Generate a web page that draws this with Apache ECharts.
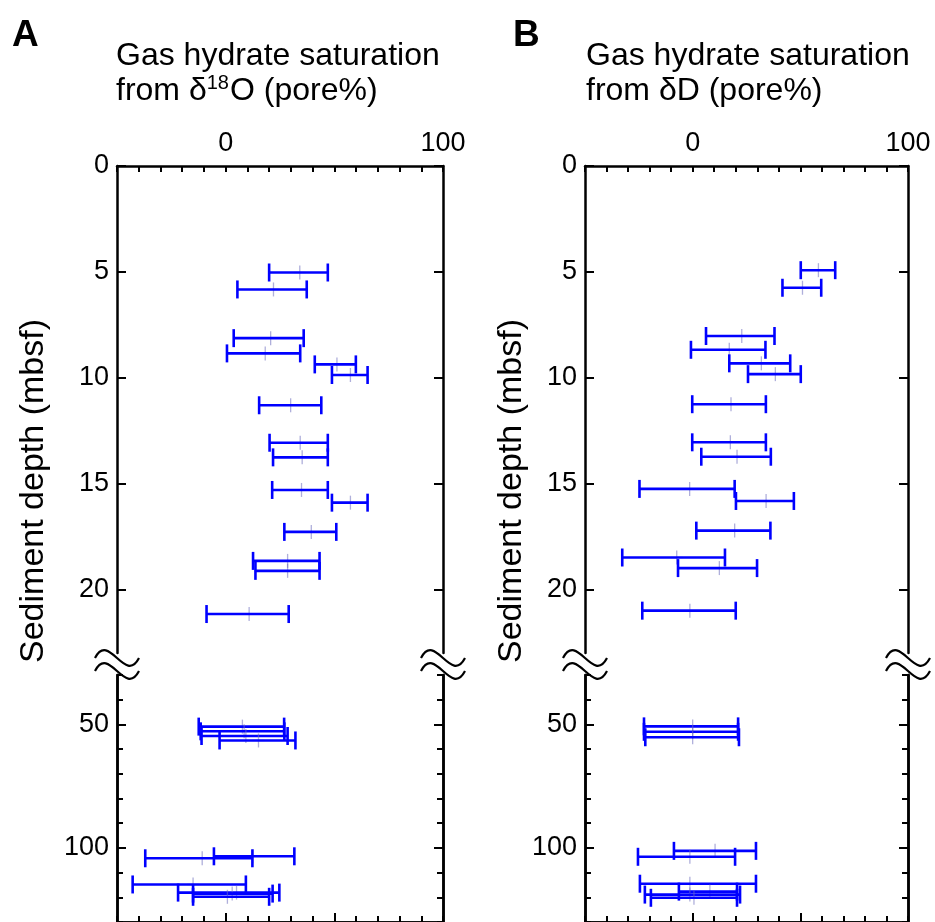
<!DOCTYPE html>
<html><head><meta charset="utf-8">
<script src="https://cdn.jsdelivr.net/npm/echarts@6/dist/echarts.min.js"></script>
<style>html,body{margin:0;padding:0;background:#fff}#c{width:935px;height:922px}</style>
</head><body><div id="c"></div>
<script>
// ---------- DATA ----------
// Panel A: saturation from δ18O
const depthA  = [5.03, 5.83, 8.13, 8.85, 9.37, 9.87, 11.3, 13.07, 13.76, 15.3, 15.9, 17.28, 18.65, 19.12, 21.16, 50.9, 52.8, 54.7, 56.5, 103.4, 104.2, 114.8, 118.1, 118.5, 119.8];
const centerA = [34.1, 22.0, 20.7, 18.2, 51.2, 57.4, 29.9, 34.3, 35.2, 34.9, 57.4, 39.4, 28.5, 28.5, 10.8, 7.7, 8.5, 9.3, 15.1, 12.5, -10.8, -15.0, 5.0, 3.0, 0.8];
const lowA    = [20.0, 5.4, 3.7, 0.6, 41.0, 48.9, 15.4, 20.2, 21.8, 21.4, 48.9, 27.0, 12.6, 13.7, -8.8, -12.4, -11.5, -11.1, -2.8, -5.4, -37.0, -42.8, -21.9, -15.0, -15.0];
const highA   = [47.0, 37.3, 35.9, 34.3, 59.9, 65.3, 44.0, 47.0, 47.0, 47.0, 65.3, 50.9, 43.2, 43.2, 29.0, 26.9, 27.0, 28.5, 32.1, 31.6, 12.3, 9.3, 24.7, 21.6, 20.0];
// Panel B: saturation from δD
const depthB  = [4.92, 5.75, 8.03, 8.68, 9.32, 9.83, 11.25, 13.05, 13.73, 15.25, 15.82, 17.22, 18.49, 18.99, 21.0, 50.8, 53.0, 55.2, 101.2, 103.6, 114.5, 117.7, 118.9, 120.2];
const centerB = [58.4, 51.0, 22.8, 17.0, 31.9, 38.4, 17.8, 17.5, 20.6, -1.4, 34.1, 19.5, -7.4, 12.4, -1.3, 0.0, 0.0, 0.0, 10.4, -1.3, -1.3, 8.0, -1.3, 0.6];
const lowB    = [50.2, 41.7, 6.2, -0.8, 17.0, 25.7, -0.2, -0.2, 4.0, -24.7, 20.1, 1.7, -32.7, -6.8, -23.4, -22.6, -22.6, -22.0, -8.7, -25.4, -24.5, -6.4, -22.2, -19.4];
const highB   = [66.2, 59.7, 38.0, 33.8, 45.3, 50.2, 34.0, 34.0, 36.3, 19.5, 47.0, 36.1, 15.0, 29.9, 20.0, 21.1, 21.1, 21.5, 29.4, 19.7, 29.4, 20.6, 22.0, 20.6];

const xTickLabels = [0, 100];
const yUpperLabels = [0, 5, 10, 15, 20];
const yLowerLabels = [50, 100];
const xMajorLower = [0, 50];
const upperRange = [0, 23];
const lowerRange = [30, 130];
const xRange = [-50, 100];

// ---------- HELPERS ----------
const FONT = 'Liberation Sans, Arial, Helvetica, sans-serif';
const BLUE = '#0000ff';
const MARK = 'rgba(110,110,190,0.55)';

function rows(depth, center, low, high, upper) {
  const out = [];
  for (let i = 0; i < depth.length; i++) {
    const isUpper = depth[i] < 25;
    if (isUpper === upper) out.push([center[i], depth[i], low[i], high[i]]);
  }
  return out;
}

function renderErr(params, api) {
  const c = api.value(0), d = api.value(1), lo = api.value(2), hi = api.value(3);
  const pl = api.coord([lo, d]), ph = api.coord([hi, d]), pc = api.coord([c, d]);
  const cap = 9;
  return {
    type: 'group',
    children: [
      {type: 'line', shape: {x1: pc[0], y1: pc[1] - 7, x2: pc[0], y2: pc[1] + 7}, style: {stroke: MARK, lineWidth: 1.3}},
      {type: 'line', shape: {x1: pc[0] - 6, y1: pc[1], x2: pc[0] + 6, y2: pc[1]}, style: {stroke: MARK, lineWidth: 1.3}},
      {type: 'line', shape: {x1: pl[0], y1: pl[1], x2: ph[0], y2: ph[1]}, style: {stroke: BLUE, lineWidth: 2.6}},
      {type: 'line', shape: {x1: pl[0], y1: pl[1] - cap, x2: pl[0], y2: pl[1] + cap}, style: {stroke: BLUE, lineWidth: 2.6}},
      {type: 'line', shape: {x1: ph[0], y1: ph[1] - cap, x2: ph[0], y2: ph[1] + cap}, style: {stroke: BLUE, lineWidth: 2.6}}
    ]
  };
}

const axLine = {show: true, onZero: false, lineStyle: {color: '#000', width: 2.5}};
const labelStyle = {color: '#000', fontFamily: FONT, fontSize: 27};

const panels = [
  {left: 117, width: 326, letter: 'A', letterX: 12, nameX: 34, titleX: 116, sub: 'from δ{s|18}O (pore%)',
   data: [depthA, centerA, lowA, highA]},
  {left: 585, width: 323, letter: 'B', letterX: 513, nameX: 512, titleX: 586, sub: 'from δD (pore%)',
   data: [depthB, centerB, lowB, highB]}
];

const grid = [], xAxis = [], yAxis = [], series = [], graphic = [];

panels.forEach((p, pi) => {
  const gU = grid.length;
  grid.push({left: p.left, width: p.width, top: 166, height: 487});
  const gL = grid.length;
  grid.push({left: p.left, width: p.width, top: 675, height: 248});

  const xU = xAxis.length;
  xAxis.push({type: 'value', gridIndex: gU, position: 'top', min: xRange[0], max: xRange[1], interval: 10,
    axisLine: axLine, splitLine: {show: false},
    axisTick: {show: true, inside: true, length: 6, lineStyle: {color: '#000', width: 2}},
    axisLabel: {show: true, customValues: xTickLabels, margin: 9, ...labelStyle}});
  const xL = xAxis.length;
  xAxis.push({type: 'value', gridIndex: gL, position: 'bottom', min: xRange[0], max: xRange[1], interval: 10,
    axisLine: axLine, splitLine: {show: false},
    axisTick: {show: true, inside: true, length: 6, lineStyle: {color: '#000', width: 2}},
    axisLabel: {show: false}});
  xAxis.push({type: 'value', gridIndex: gL, position: 'bottom', min: xRange[0], max: xRange[1], interval: 10,
    axisLine: axLine, splitLine: {show: false},
    axisTick: {show: true, inside: true, length: 9, customValues: xMajorLower, lineStyle: {color: '#000', width: 2}},
    axisLabel: {show: false}});

  const yU = yAxis.length;
  yAxis.push({type: 'value', gridIndex: gU, position: 'left', inverse: true, min: upperRange[0], max: upperRange[1],
    axisLine: axLine, splitLine: {show: false},
    axisTick: {show: true, inside: true, length: 9, customValues: yUpperLabels, lineStyle: {color: '#000', width: 2}},
    axisLabel: {show: true, customValues: yUpperLabels, margin: 8, ...labelStyle}});
  yAxis.push({type: 'value', gridIndex: gU, position: 'right', inverse: true, min: upperRange[0], max: upperRange[1],
    axisLine: axLine, splitLine: {show: false},
    axisTick: {show: true, inside: true, length: 9, customValues: yUpperLabels, lineStyle: {color: '#000', width: 2}},
    axisLabel: {show: false}});
  const yL = yAxis.length;
  yAxis.push({type: 'value', gridIndex: gL, position: 'left', inverse: true, min: lowerRange[0], max: lowerRange[1], interval: 10,
    axisLine: axLine, splitLine: {show: false},
    axisTick: {show: true, inside: true, length: 6, lineStyle: {color: '#000', width: 2}},
    axisLabel: {show: false}});
  yAxis.push({type: 'value', gridIndex: gL, position: 'left', inverse: true, min: lowerRange[0], max: lowerRange[1], interval: 10,
    axisLine: axLine, splitLine: {show: false},
    axisTick: {show: true, inside: true, length: 9, customValues: yLowerLabels, lineStyle: {color: '#000', width: 2}},
    axisLabel: {show: true, customValues: yLowerLabels, margin: 8, ...labelStyle}});
  yAxis.push({type: 'value', gridIndex: gL, position: 'right', inverse: true, min: lowerRange[0], max: lowerRange[1], interval: 10,
    axisLine: axLine, splitLine: {show: false},
    axisTick: {show: true, inside: true, length: 6, lineStyle: {color: '#000', width: 2}},
    axisLabel: {show: false}});
  yAxis.push({type: 'value', gridIndex: gL, position: 'right', inverse: true, min: lowerRange[0], max: lowerRange[1], interval: 10,
    axisLine: axLine, splitLine: {show: false},
    axisTick: {show: true, inside: true, length: 9, customValues: yLowerLabels, lineStyle: {color: '#000', width: 2}},
    axisLabel: {show: false}});

  const [d, c, lo, hi] = p.data;
  series.push({type: 'custom', xAxisIndex: xU, yAxisIndex: yU, renderItem: renderErr, clip: false,
    encode: {x: [0, 2, 3], y: 1}, data: rows(d, c, lo, hi, true), silent: true});
  series.push({type: 'custom', xAxisIndex: xL, yAxisIndex: yL, renderItem: renderErr, clip: false,
    encode: {x: [0, 2, 3], y: 1}, data: rows(d, c, lo, hi, false), silent: true});

  graphic.push({type: 'text', left: p.letterX, top: 17, style: {text: p.letter, font: 'bold 37px ' + FONT, fill: '#000'}});
  graphic.push({type: 'text', x: p.titleX, y: 56, style: {text: 'Gas hydrate saturation', font: '32px ' + FONT, fill: '#000', verticalAlign: 'middle'}});
  graphic.push({type: 'text', x: p.titleX, y: 91, style: {text: p.sub, font: '32px ' + FONT, fill: '#000', verticalAlign: 'middle',
    rich: {s: {fontSize: 20, fontFamily: FONT, verticalAlign: 'top', lineHeight: 36, padding: [0, 1, 0, 0]}}}});
  graphic.push({type: 'text', x: p.nameX, y: 491, rotation: Math.PI / 2,
    style: {text: 'Sediment depth (mbsf)', font: '34px ' + FONT, fill: '#000', align: 'center', verticalAlign: 'middle'}});

  [p.left, p.left + p.width].forEach(ax => {
    [658, 671].forEach(yy => {
      graphic.push({type: 'bezierCurve', shape: {x1: ax - 22, y1: yy, cpx1: ax - 8, cpy1: yy - 27, cpx2: ax + 8, cpy2: yy + 27, x2: ax + 22, y2: yy},
        style: {stroke: '#000', lineWidth: 2.2, fill: null}});
    });
  });
});

const chart = echarts.init(document.getElementById('c'), null, {renderer: 'canvas'});
chart.setOption({animation: false, backgroundColor: '#fff', grid, xAxis, yAxis, series, graphic});
</script></body></html>
